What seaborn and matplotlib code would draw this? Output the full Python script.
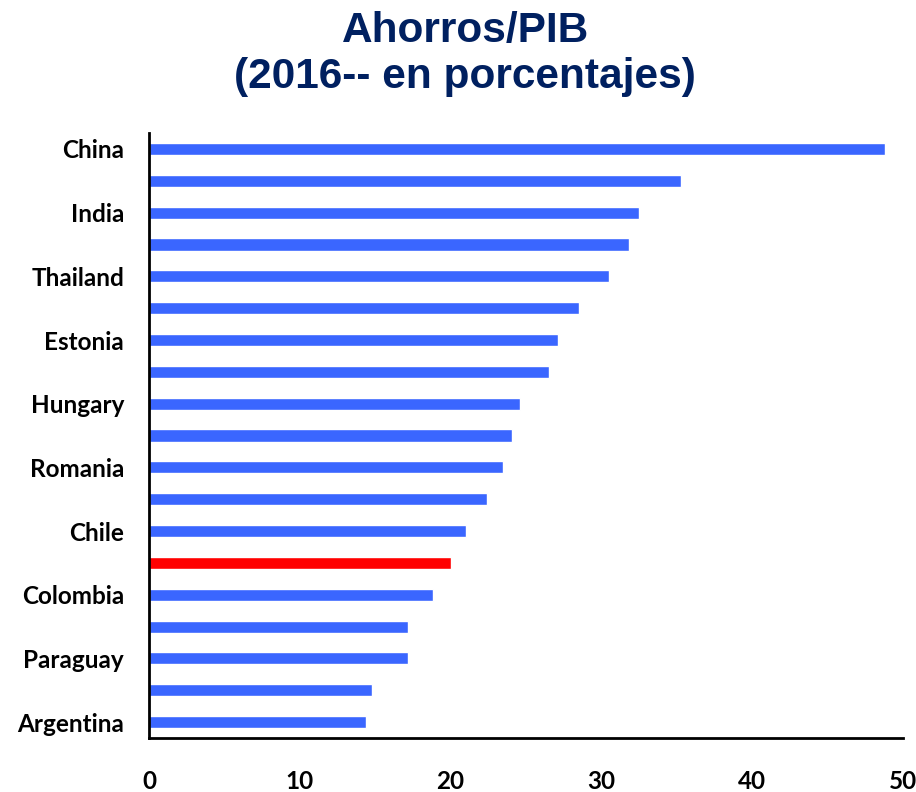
import matplotlib
matplotlib.use("Agg")
import matplotlib.pyplot as plt
import seaborn as sns
import pandas as pd

# =========================================
# Data
# =========================================

countries = [
    "China", "c2", "India", "c4", "Thailand", "c6", "Estonia", "c8",
    "Hungary", "c10", "Romania", "c12", "Chile", "c14", "Colombia",
    "c16", "Paraguay", "c18", "Argentina",
]
tick_labels = [
    "China", "", "India", "", "Thailand", "", "Estonia", "",
    "Hungary", "", "Romania", "", "Chile", "", "Colombia",
    "", "Paraguay", "", "Argentina",
]
savings = [
    48.8, 35.3, 32.5, 31.8, 30.5, 28.5, 27.1, 26.5,
    24.6, 24.1, 23.5, 22.4, 21.0, 20.0, 18.8,
    17.2, 17.2, 14.8, 14.4,
]
highlight = [
    "no", "no", "no", "no", "no", "no", "no", "no",
    "no", "no", "no", "no", "no", "yes", "no",
    "no", "no", "no", "no",
]

df = pd.DataFrame({
    "country": countries,
    "savings": savings,
    "highlight": highlight,
})

# =========================================
# Plot
# =========================================

sns.set_style("white")
plt.rcParams["font.family"] = ["Lato", "DejaVu Sans"]

fig = plt.figure(figsize=(9.16, 7.92), dpi=100)
ax = fig.add_axes([0.1627, 0.0682, 0.8231, 0.7638])

sns.barplot(
    data=df,
    x="savings",
    y="country",
    hue="highlight",
    palette={"no": "#3A66FF", "yes": "#FF0000"},
    saturation=1,
    orient="h",
    width=0.38,
    dodge=False,
    legend=False,
    ax=ax,
)

ax.set_xlim(0, 50)
ax.set_ylim(18.5, -0.5)
ax.set_xticks([0, 10, 20, 30, 40, 50])
ax.set_yticks(range(len(countries)))
ax.set_yticklabels(tick_labels)
ax.set_xlabel("")
ax.set_ylabel("")

for lab in ax.get_xticklabels() + ax.get_yticklabels():
    lab.set_fontweight("bold")
    lab.set_fontsize(17.5)
    lab.set_color("black")

ax.tick_params(axis="x", length=0, pad=23)
ax.tick_params(axis="y", length=0, pad=18)

for side in ["top", "right"]:
    ax.spines[side].set_visible(False)
for side in ["left", "bottom"]:
    ax.spines[side].set_color("black")
    ax.spines[side].set_linewidth(2)

fig.text(
    0.508, 0.932,
    "Ahorros/PIB\n(2016-- en porcentajes)",
    ha="center", va="center",
    fontsize=30.5, fontweight="bold",
    color="#002060",
    family=["Liberation Sans", "DejaVu Sans"],
    linespacing=1.2,
)

fig.savefig("out.png", dpi=100)
plt.close(fig)
